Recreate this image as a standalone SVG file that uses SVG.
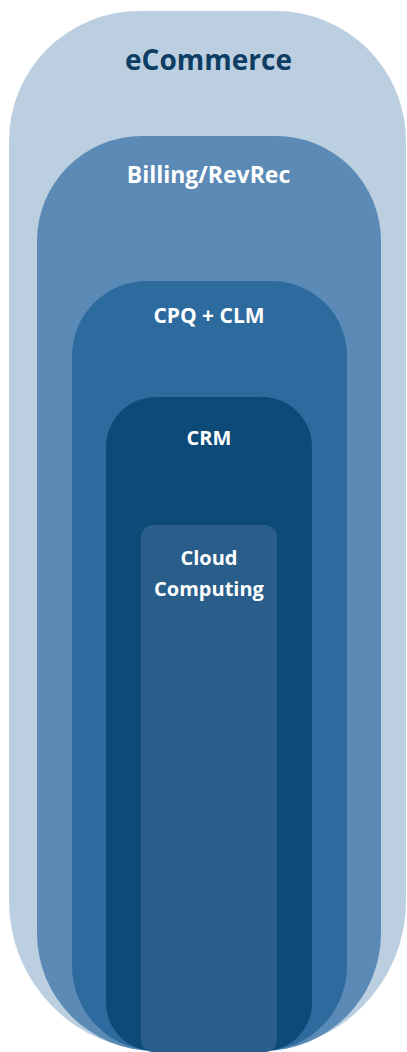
<svg xmlns="http://www.w3.org/2000/svg" width="407" height="1052" viewBox="0 0 407 1052">
<style>
.lbl{font-family:"Open Sans","Liberation Sans",sans-serif;font-weight:bold;text-anchor:middle;fill:#ffffff}
.dark{fill:#0E3D63}
</style>
<rect width="407" height="1052" fill="#ffffff"/>
<g id="ecommerce">
<path d="M9,141 A130,130 0 0 1 139,11 H276 A130,130 0 0 1 406,141 V901 A150,150 0 0 1 256,1051 H159 A150,150 0 0 1 9,901 Z" fill="#BBCFE1"/>
<text class="lbl dark" x="208.5" y="70" font-size="28">eCommerce</text>
</g>
<g id="billing">
<path d="M37,241 A105,105 0 0 1 142,136 H276 A105,105 0 0 1 381,241 V933 A118,118 0 0 1 263,1051 H155 A118,118 0 0 1 37,933 Z" fill="#5A8AB5"/>
<text class="lbl" x="208.5" y="183" font-size="23">Billing/RevRec</text>
</g>
<g id="cpq">
<path d="M72,356 A75,75 0 0 1 147,281 H272 A75,75 0 0 1 347,356 V966 A85,85 0 0 1 262,1051 H157 A85,85 0 0 1 72,966 Z" fill="#2D6B9F"/>
<text class="lbl" x="209" y="323" font-size="21">CPQ + CLM</text>
</g>
<g id="crm">
<path d="M106,447 A50,50 0 0 1 156,397 H262 A50,50 0 0 1 312,447 V1003 A48,48 0 0 1 264,1051 H154 A48,48 0 0 1 106,1003 Z" fill="#0D4A78"/>
<text class="lbl" x="209" y="445" font-size="20">CRM</text>
</g>
<g id="cloud">
<rect x="141" y="525" width="136" height="527" rx="12" ry="12" fill="#295E8A"/>
<text class="lbl" x="209" y="565" font-size="20">Cloud</text>
<text class="lbl" x="209" y="596" font-size="20">Computing</text>
</g>
<g id="connectors"/>
</svg>
